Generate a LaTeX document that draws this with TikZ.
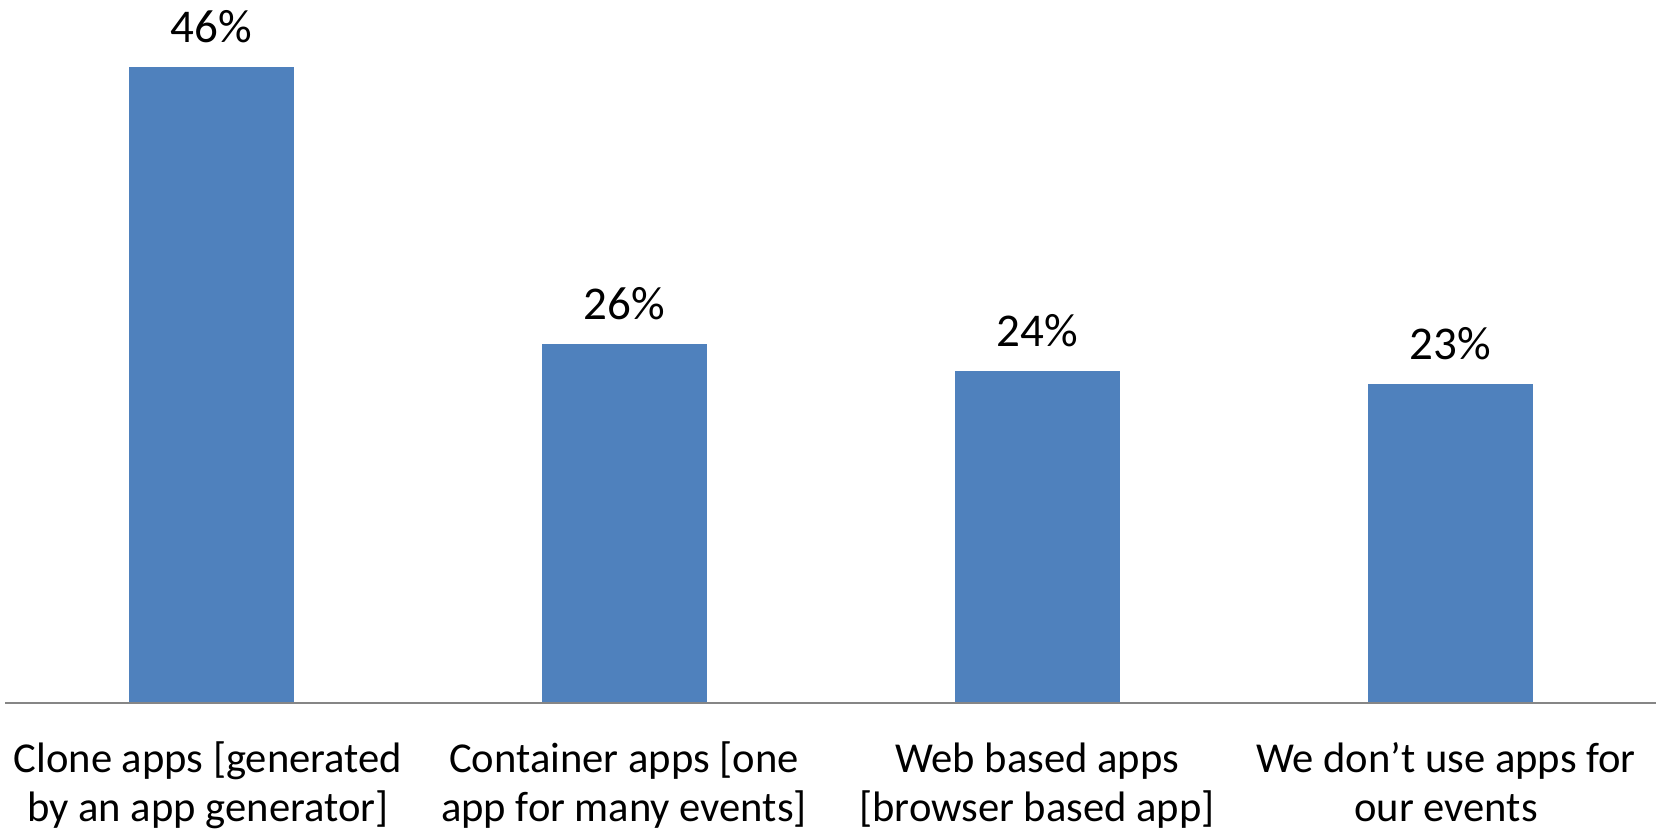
\documentclass[tikz,border=0pt]{standalone}
\usepackage{fontspec}
\setmainfont{Carlito}
\definecolor{barblue}{HTML}{4F81BD}
\definecolor{axisgray}{HTML}{868686}
\tikzset{
  bar/.style={fill=barblue, draw=none},
  pct/.style={anchor=base, inner sep=0pt, font=\fontsize{47pt}{56pt}\selectfont},
  cat/.style={anchor=base, inner sep=0pt, align=center, font=\fontsize{42.6pt}{49pt}\selectfont},
}
\begin{document}
\begin{tikzpicture}[x=1pt,y=-1pt]
\useasboundingbox (0,0) rectangle (1656,831);
\fill[white] (0,0) rectangle (1656,831);
% bars
\fill[bar] (129,67) rectangle (294,703);
\fill[bar] (542,344) rectangle (707,703);
\fill[bar] (955,371) rectangle (1120,703);
\fill[bar] (1368,384) rectangle (1533,703);
% axis
\draw[axisgray, line width=2pt] (5,703) -- (1656,703);
% value labels
\node[pct] (v1) at (211.5,42) {46\%};
\node[pct] (v2) at (624.5,319) {26\%};
\node[pct] (v3) at (1037.5,346) {24\%};
\node[pct] (v4) at (1450.5,359) {23\%};
% category labels
\node[cat] (c1) at (208,821) {Clone apps [generated\\by an app generator]};
\node[cat] (c2) at (624,821) {Container apps [one\\app for many events]};
\node[cat] (c3) at (1037,821) {Web based apps\\{[}browser based app{]}};
\node[cat] (c4) at (1446,821) {We don’t use apps for\\our events};
\end{tikzpicture}
\end{document}
